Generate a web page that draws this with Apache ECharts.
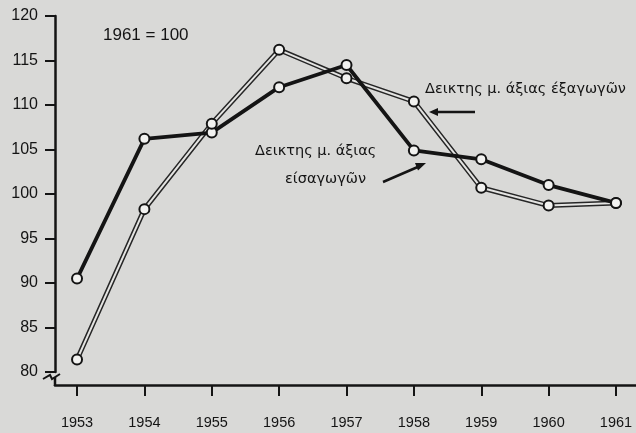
<!DOCTYPE html>
<html>
<head>
<meta charset="utf-8">
<script src="https://cdn.jsdelivr.net/npm/echarts@6/dist/echarts.min.js"></script>
<style>
  html, body { margin: 0; padding: 0; background: #d9d9d7; }
  #box1 { width: 636px; height: 433px; }
</style>
</head>
<body>
<div id="box1"></div>
<script>
var years = [1953, 1954, 1955, 1956, 1957, 1958, 1959, 1960, 1961]
// Δεικτης μ. άξιας είσαγωγών (imports)
var imports = [90.5, 106.2, 106.9, 112.0, 114.5, 104.9, 103.9, 101.0, 99.0]
// Δεικτης μ. άξιας έξαγωγών (exports)
var exports = [81.4, 98.3, 107.9, 116.2, 113.0, 110.4, 100.7, 98.7, 99.0]

function pairs(vals) {
    return years.map(function (y, i) { return [y, vals[i]] })
}

var font = "'Liberation Sans', Arial, sans-serif"
var greekFont = "'DejaVu Sans', sans-serif"
var ink = '#141414'

var first = echarts.init(document.getElementById('box1'))
var option = {
    backgroundColor: '#d9d9d7',
    animation: false,
    grid: {
        left: 55,
        right: 0,
        top: 16,
        bottom: 61
    },
    xAxis: {
        type: 'value',
        min: 1952.673,
        max: 1961.297,
        offset: 13,
        splitLine: { show: false },
        axisLine: { lineStyle: { color: ink, width: 2.5 } },
        axisTick: {
            customValues: years,
            length: 11,
            lineStyle: { color: ink, width: 2 }
        },
        axisLabel: {
            customValues: years,
            formatter: function (v) { return String(Math.round(v)) },
            margin: 30,
            color: ink,
            fontFamily: font,
            fontSize: 14.5
        }
    },
    yAxis: {
        type: 'value',
        min: 80,
        max: 120,
        interval: 5,
        splitLine: { show: false },
        axisLine: { show: true, lineStyle: { color: ink, width: 2.5 } },
        axisTick: { show: true, length: 10, lineStyle: { color: ink, width: 2 } },
        axisLabel: {
            margin: 17,
            color: ink,
            fontFamily: font,
            fontSize: 16
        }
    },
    series: [
        {
            name: 'exports-edge',
            type: 'line',
            data: pairs(exports),
            symbol: 'none',
            z: 1,
            lineStyle: { color: '#262626', width: 5 }
        },
        {
            name: 'exports-core',
            type: 'line',
            data: pairs(exports),
            symbol: 'none',
            z: 2,
            lineStyle: { color: '#e4e4e2', width: 2 }
        },
        {
            name: 'imports',
            type: 'line',
            data: pairs(imports),
            symbol: 'circle',
            symbolSize: 10,
            z: 3,
            lineStyle: { color: ink, width: 3.8 },
            itemStyle: { color: '#f2f2f0', borderColor: ink, borderWidth: 2 }
        },
        {
            name: 'exports-marks',
            type: 'line',
            data: pairs(exports),
            symbol: 'circle',
            symbolSize: 10,
            z: 4,
            lineStyle: { opacity: 0 },
            itemStyle: { color: '#f2f2f0', borderColor: ink, borderWidth: 2 }
        }
    ],
    graphic: [
        {
            type: 'text', left: 103, top: 27,
            style: { text: '1961 = 100', font: '17px ' + font, fill: ink }
        },
        {
            type: 'text', left: 425, top: 82,
            style: { text: 'Δεικτης μ. άξιας έξαγωγῶν', font: '14.5px ' + greekFont, fill: ink }
        },
        {
            type: 'text', left: 255, top: 144,
            style: { text: 'Δεικτης μ. άξιας', font: '14.5px ' + greekFont, fill: ink }
        },
        {
            type: 'text', left: 285, top: 172,
            style: { text: 'είσαγωγῶν', font: '14.5px ' + greekFont, fill: ink }
        },
        // arrow to exports line
        {
            type: 'line',
            shape: { x1: 475, y1: 112, x2: 434, y2: 112 },
            style: { stroke: ink, lineWidth: 2.5 }
        },
        {
            type: 'polygon',
            shape: { points: [[429, 112], [438, 108], [438, 116]] },
            style: { fill: ink }
        },
        // arrow to imports line
        {
            type: 'line',
            shape: { x1: 383, y1: 182, x2: 420, y2: 166 },
            style: { stroke: ink, lineWidth: 2.5 }
        },
        {
            type: 'polygon',
            shape: { points: [[426, 163], [415, 163], [418, 170.5]] },
            style: { fill: ink }
        },
        // axis break
        {
            type: 'polyline',
            shape: { points: [[43, 379], [50, 375], [52, 379], [60, 374]] },
            style: { stroke: ink, lineWidth: 2, fill: null }
        },
        {
            type: 'line',
            shape: { x1: 55, y1: 377, x2: 55, y2: 386 },
            style: { stroke: ink, lineWidth: 2.5 }
        }
    ]
}
first.setOption(option)
</script>
</body>
</html>
